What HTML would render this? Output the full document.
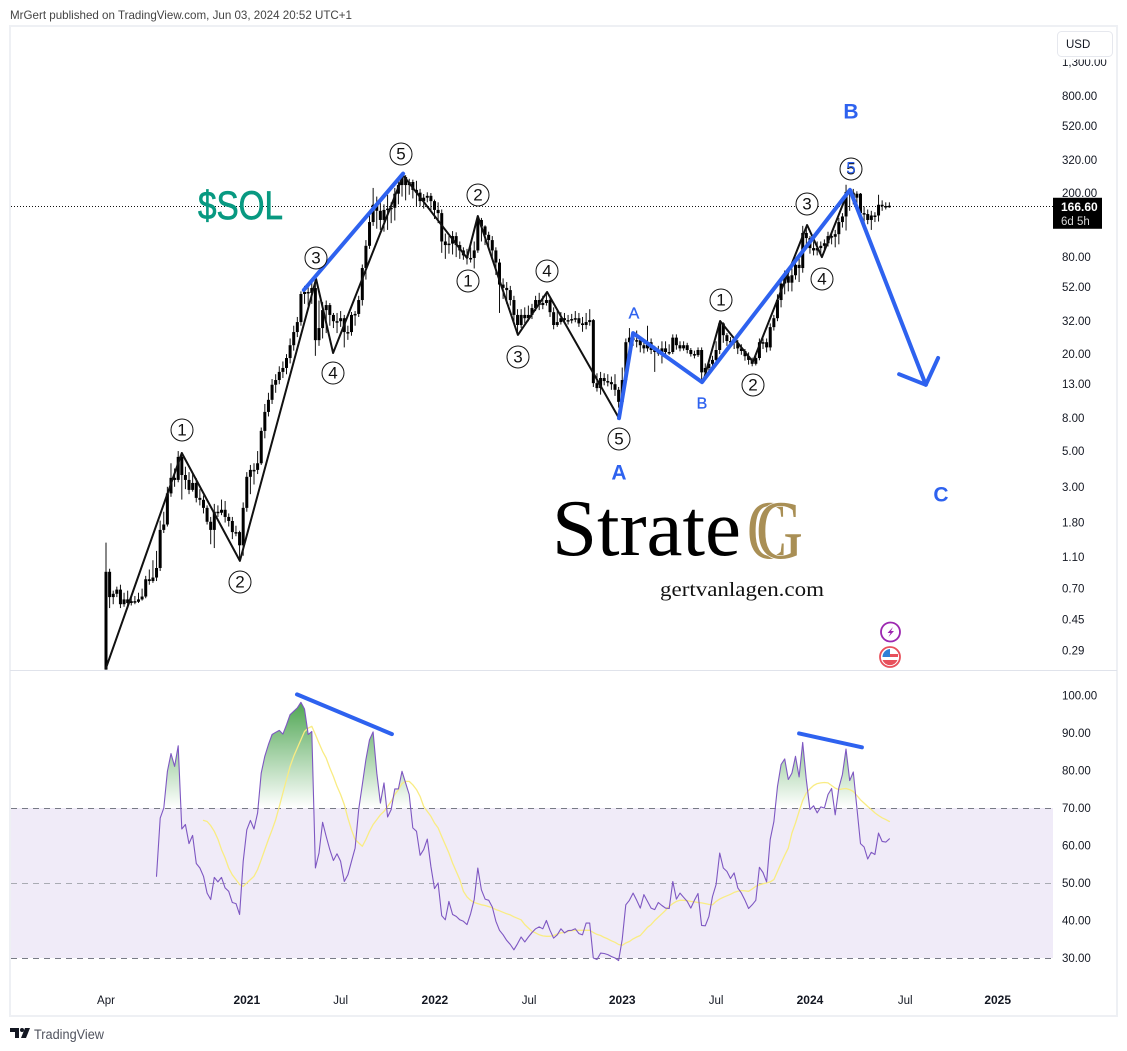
<!DOCTYPE html>
<html lang="en">
<head>
<meta charset="utf-8">
<title>SOL weekly chart with Elliott wave count and RSI</title>
<style>
html,body{margin:0;padding:0;background:#fff;width:1127px;height:1051px;overflow:hidden}
svg{display:block;font-family:"Liberation Sans",sans-serif}
.tick{font-size:11.5px;fill:#131722}
.circ{fill:#fff;stroke:#111;stroke-width:1}
.num{font-size:17px;fill:#111;text-anchor:middle;dominant-baseline:central}
.blue{fill:#2e62ef;text-anchor:middle;dominant-baseline:central}
</style>
</head>
<body>
<svg id="chart" width="1127" height="1051" viewBox="0 0 1127 1051" xmlns="http://www.w3.org/2000/svg">
  <defs>
    <linearGradient id="rsiGrad" gradientUnits="userSpaceOnUse" x1="0" y1="695" x2="0" y2="808">
      <stop offset="0" stop-color="#43a047" stop-opacity="1"/>
      <stop offset="1" stop-color="#43a047" stop-opacity="0"/>
    </linearGradient>
    <clipPath id="above70"><rect x="10" y="670" width="1043" height="138"/></clipPath>
    <clipPath id="pricePane"><rect x="10" y="27" width="1043" height="643"/></clipPath>
  </defs>

  <text x="10" y="19" font-size="11.6" fill="#444" textLength="342" lengthAdjust="spacingAndGlyphs">MrGert published on TradingView.com, Jun 03, 2024 20:52 UTC+1</text>
  <rect x="10" y="26" width="1107" height="990" fill="#fff" stroke="#eef0f4" stroke-width="2"/>

  <rect x="11" y="808" width="1042" height="150" fill="#f0ebf8"/>
  <line x1="11" x2="1053" y1="808.5" y2="808.5" stroke="#787b86" stroke-dasharray="6 5"/>
  <line x1="11" x2="1053" y1="883.5" y2="883.5" stroke="#a9abb3" stroke-dasharray="6 5"/>
  <line x1="11" x2="1053" y1="958.5" y2="958.5" stroke="#787b86" stroke-dasharray="6 5"/>
  <line x1="10" x2="1117" y1="670.5" y2="670.5" stroke="#e0e3eb"/>
  <line x1="11" x2="1053" y1="206.5" y2="206.5" stroke="#111" stroke-width="1" stroke-dasharray="1 2"/>

  <g id="candles" clip-path="url(#pricePane)"></g>
  <g id="drawings"></g>
  <g id="rsiLayer"></g>
  <g id="axes"></g>

  <g>
    <g><circle class="circ" cx="182" cy="430" r="11"/><text class="num" x="182" y="430">1</text></g>
    <g><circle class="circ" cx="240" cy="582" r="11"/><text class="num" x="240" y="582">2</text></g>
    <g><circle class="circ" cx="316" cy="258" r="11"/><text class="num" x="316" y="258">3</text></g>
    <g><circle class="circ" cx="333" cy="373" r="11"/><text class="num" x="333" y="373">4</text></g>
    <g><circle class="circ" cx="401" cy="154" r="11"/><text class="num" x="401" y="154">5</text></g>
    <g><circle class="circ" cx="468" cy="281" r="11"/><text class="num" x="468" y="281">1</text></g>
    <g><circle class="circ" cx="478" cy="195" r="11"/><text class="num" x="478" y="195">2</text></g>
    <g><circle class="circ" cx="518" cy="357" r="11"/><text class="num" x="518" y="357">3</text></g>
    <g><circle class="circ" cx="547" cy="271" r="11"/><text class="num" x="547" y="271">4</text></g>
    <g><circle class="circ" cx="619" cy="439" r="11"/><text class="num" x="619" y="439">5</text></g>
    <g><circle class="circ" cx="721" cy="300" r="11"/><text class="num" x="721" y="300">1</text></g>
    <g><circle class="circ" cx="753" cy="385" r="11"/><text class="num" x="753" y="385">2</text></g>
    <g><circle class="circ" cx="807" cy="204" r="11"/><text class="num" x="807" y="204">3</text></g>
    <g><circle class="circ" cx="822" cy="279" r="11"/><text class="num" x="822" y="279">4</text></g>
    <g><circle class="circ" cx="851" cy="169" r="11"/><text class="num" x="851" y="169">5</text><text class="num" x="851" y="168" style="fill:#2e62ef">5</text></g>
  </g>

  <text class="blue" x="619" y="473" font-size="21" font-weight="bold">A</text>
  <text class="blue" x="851" y="112" font-size="21" font-weight="bold">B</text>
  <text class="blue" x="941" y="495" font-size="21" font-weight="bold">C</text>
  <text class="blue" x="634" y="314" font-size="16" stroke="#2e62ef" stroke-width="0.3">A</text>
  <text class="blue" x="702" y="404" font-size="16" stroke="#2e62ef" stroke-width="0.3">B</text>

  <text x="198" y="219" font-size="40" fill="#089981" stroke="#089981" stroke-width="0.7" textLength="85" lengthAdjust="spacingAndGlyphs">$SOL</text>

  <g font-family="'Liberation Serif',serif">
    <text x="552" y="555" font-size="80" fill="#000" textLength="189" lengthAdjust="spacingAndGlyphs">Strate</text>
    <text x="747" y="558" font-size="84" fill="#a98f55" textLength="40" lengthAdjust="spacingAndGlyphs">C</text>
    <text x="756" y="558" font-size="84" fill="#a98f55" stroke="#fff" stroke-width="1.2" paint-order="stroke" textLength="47" lengthAdjust="spacingAndGlyphs">G</text>
    <text x="660" y="596" font-size="20" fill="#111" textLength="164" lengthAdjust="spacingAndGlyphs">gertvanlagen.com</text>
  </g>

  <g>
    <circle cx="890.500" cy="632" r="9.500" fill="#fff" stroke="#9c27b0" stroke-width="1.800"/>
    <path d="M893 627l-5.500 6h3l-2 4 5.500-6h-3z" fill="#9c27b0"/>
  </g>
  <g>
    <circle cx="890" cy="657" r="10" fill="#fff" stroke="#e8505b" stroke-width="1.800"/>
    <path d="M882.500 660h15a8 8 0 0 1-15 0z" fill="#e8505b"/>
    <rect x="890" y="654" width="8" height="3" fill="#e8505b"/>
    <path d="M890 649a8 8 0 0 0-7.500 8h7.500z" fill="#2f7fd6"/>
  </g>

  <path d="M10 1028h9v10h-4v-6h-5z M25 1028h5l-4 10h-5z" fill="#131722"/>
  <circle cx="22" cy="1030" r="2" fill="#131722"/>
  <text x="34" y="1039" font-size="13.500" fill="#50535e" textLength="70" lengthAdjust="spacingAndGlyphs">TradingView</text>

  <g id="lastPrice"></g>
  <rect x="1055" y="29" width="60" height="30.500" fill="#fff"/>
  <g>
    <rect x="1057.500" y="31.500" width="55" height="25" rx="4" fill="#fff" stroke="#e6e8ee"/>
    <text x="1066" y="48" font-size="11.500" fill="#131722">USD</text>
  </g>
</svg>

<script>
// Weekly SOL/USD candles. Each open is the previous close.
const firstOpen = 0.22;
const closes = [0.89,0.62,0.65,0.69,0.56,0.60,0.57,0.585,0.58,0.60,0.625,0.80,0.78,0.82,0.94,1.62,1.75,2.73,3.41,3.31,4.6,3.55,3.31,2.87,3.17,2.56,2.49,2.22,1.82,1.62,2.10,2.07,2.16,1.95,1.84,1.57,1.57,1.30,2.22,3.46,3.82,3.82,4.2,6.67,8.75,10.4,12.9,13.8,15.5,16.4,18.9,22.7,27.4,31.6,47.2,48.6,47.9,51.4,24.4,29,37.5,40.3,35,32,32,33.4,27.4,27.4,35,35.5,43.3,68.4,94,132,169,155,136,157,160,162,198,224,251,224,234,209,201,178,187,192,178,157,150,100,95,97,108,95,88,82,79,79,88,136,124,110,102,88,74,54,51.5,49.9,43.3,35,30.3,35,33.4,35,38.6,43.3,40.3,41.5,43.3,36.4,30.3,31.6,33.4,32.5,32.5,33,33.4,31,30.3,31.6,32.5,13.2,12.3,14.2,13.6,13.4,13,12,10.1,13.8,23.7,25.3,24.4,24.4,22.7,21.7,23.7,21.2,20.6,20.6,21.7,20.6,20.6,25.3,22.7,21.7,22.7,21.2,20,19.7,21.2,15.4,16.4,17.4,18.4,21.2,31,26.2,24.1,24.1,23.4,21.7,20.9,19.4,18.4,17.4,18.9,23.7,23.7,22,29.4,33.4,43.3,54.8,60.8,55.5,61.7,71.6,68.4,113,105,91,88,91,94,97.5,108,107,111,132,143,203,201,187,198,150,148,136,145,145,169,166,166,166.6];
const highs = [1.35,0.93,0.68,0.72,0.74,0.66,0.68,0.62,0.63,0.66,0.70,0.84,0.92,1.05,1.2,1.85,2.1,3.0,4.2,3.9,5.0,4.9,4.0,3.7,3.6,3.4,2.9,2.65,2.3,1.95,2.35,2.3,2.5,2.45,2.05,1.95,1.72,1.6,2.4,3.7,4.1,4.2,5,7.0,9.8,11.5,14,15,16.8,18,20,25,30,34,49,53,52,58,55,43,42,43,41.5,36,36,37,35,30,36.5,37,46,72,102,145,215,190,175,170,195,175,215,245,262,258,245,242,238,212,197,202,200,182,175,158,112,108,116,114,100,92,90,92,100,144,140,126,115,108,92,78,59,56,53,46,38,38,39,40,41,46,48,46,47,45,39,37,36.5,36,35,35.5,37,36,34,36,38,33,15.2,15.5,15.2,15,14.5,15,12.5,16.5,25,29,27.5,28,25.5,24.5,30,25,22.5,22.5,24,24,23,26.5,26.5,24,24,23.5,21.8,21,22,22,17.5,18.5,19.5,24,32,31.5,27,25.5,25,24.5,23,21.5,20.5,19,19.5,25,25,25,31,35,47,60,66,64,68,78,80,125,122,108,100,100,100,103,115,112,118,140,150,225,212,212,205,200,165,158,155,152,195,180,175,175];
const lows = [0.22,0.53,0.56,0.62,0.53,0.54,0.53,0.55,0.56,0.57,0.59,0.61,0.74,0.76,0.78,0.9,1.55,1.7,2.6,3.0,3.2,2.5,2.9,2.7,2.8,2.4,2.3,2.05,1.75,1.32,1.25,1.95,2.0,1.8,1.7,1.42,1.48,1.08,1.12,2.1,2.7,3.1,3.6,4.1,6.0,8.2,9.8,11.5,13,14.2,15,17.5,21,25.5,30,41,40,41,19.5,22.5,25,27,30,29,27,29.5,22,24.5,26,30,34,40,58,90,125,120,118,115,118,130,135,170,190,180,195,185,165,165,160,175,155,138,130,85,78,84,83,80,78,77,72,74,68,85,100,95,90,78,62,36,44,41,40,31,27.5,29,31,32,33,37,37.5,38,40,34,28.5,29.5,30.5,31,30.5,31,31.5,29.5,27.5,28.5,30,12.5,11.7,11.2,12.8,12.6,12,11,9.3,9.6,13,21,22.5,22,20.5,20.2,20.7,20,15.5,19.5,17.5,19.5,19.8,20,21.3,20.8,21,20.2,19.3,18.8,19.2,13.8,14.2,15.5,16.5,17.8,20,23.5,22.5,22,21.5,20,19.8,18.2,17.2,16.8,17,18.3,21.5,20.5,21,28,32,39,47,49,49,58,56,64,92,84,82,82,84,89,93,96,92,96,122,117,155,170,165,140,125,128,118,132,133,155,158,162];
const rsiStartBar = 14;
const rsiValues = [51.8,67.3,70,79.8,84.5,81.1,86.6,64.4,65.6,60.5,62.7,55.2,54,51.8,47.3,45.6,51.5,50.3,51.5,48.7,47.8,44.8,44.5,41.6,55.8,64.2,66.7,64.4,68.7,79.3,83.8,86.9,89.6,90.2,90.7,89.7,92.2,94.9,95.8,96.7,98.2,96.4,89.6,90.4,54,58,66.2,62.4,58.9,56,57.8,55.8,50.4,52.2,55.8,59.3,69.6,76.2,82.9,88.2,90.3,79.3,71.3,76.7,67.6,69.6,75.1,75.1,79.8,76.7,73.6,64.7,63.8,57.4,58.9,61.7,54.4,48.5,50,41.3,40.2,45.1,41.6,41.1,40.2,
39.8,38.9,41.8,45.6,54,48.2,45.7,45.4,43.6,39.8,37.4,36.2,34.7,33.6,32.2,33.8,35.6,34.3,35.6,36.8,37.8,38.3,37.8,40,37.4,35.3,36.2,37.8,36.7,37.3,37.4,37.8,36.5,36.2,39.3,39.3,30,29.6,31.3,31.2,30.9,30.4,30,29.3,34.9,44.2,45.4,47.3,45.4,43.3,46.9,45.1,43.3,42.9,44.8,44,43.3,43.2,50.4,45.7,47.3,46.2,45.1,43.3,45.4,47.2,38.7,38.6,41.1,46.4,49.6,58,54,53.1,51.2,52.7,48.7,47.3,45.4,43.2,44.2,45.4,54.2,52.8,50.3,61.6,66.4,75.8,
81.6,83.1,77.6,79.3,83.8,78.3,87.5,77.6,69.6,70.6,68.7,70.3,70,73.6,75.2,68.2,75.3,78.9,85.7,77.3,79.6,70,60.5,59.6,56.4,58.2,57.6,63.3,61.1,60.9,61.8];
const maStartBar = 27;
const maValues = [66.7,66.4,65.3,63.8,61.7,58.9,56.7,54,52.2,50.9,49.6,49.1,50,50.9,51.8,53.6,56.2,58.9,61.6,64.2,66.9,70.4,74,77.6,81.1,83.8,86,88.2,90.4,91.3,91.8,89.6,87.3,85.1,83.3,80.7,78.4,75.8,73.6,70.9,67.3,64.2,61.6,60.7,59.8,61.6,63.8,65.6,66.9,68.2,69.1,70.4,71.8,73.6,74.9,76.5,77.1,77.1,76.2,74.9,73.1,70.4,69.1,67.8,66,64.7,62.4,60.2,58,55.3,53.1,50.9,
47.8,46.3,45.4,44.8,44.5,44.2,44,43.7,43.4,42.9,42.6,42.2,41.8,41.5,41,40.6,40.2,38.9,38,37.1,36.7,36.2,35.9,35.8,35.8,36,36.4,36.7,36.8,37.1,37.3,37.4,37.4,37.4,37.4,37.4,36.8,36.3,36,35.5,35.1,34.6,34.2,33.6,33.4,34,34.4,35.1,35.6,36,37.1,38.2,38.9,40,40.9,41.8,42.7,43.8,44.5,45.1,45.4,45.4,45.3,45.1,45,44.8,44.7,44.5,44.3,44.2,45.1,45.7,46.2,46.6,47,47.5,47.8,48,47.9,47.8,48.4,49.1,49.5,49.8,50,50.3,50.9,53.1,55.3,57.4,59.3,
63.3,66,69.1,72,74,75.1,76,76.5,76.7,76.8,76.7,76,75.3,74.9,75.1,75.2,74.9,74.4,73.3,72.2,71.3,70.4,69.6,68.7,68,67.4,66.9,66.4];
const priceTicks = [1300,800,520,320,200,80,52,32,20,13,8,5,3,1.8,1.1,0.7,0.45,0.29];
const rsiTicks = [100,90,80,70,60,50,40,30];
const timeTickLabels = ["Apr","2021","Jul","2022","Jul","2023","Jul","2024","Jul","2025"];
const timeTickBars = [0,39,65,91.1,117.2,143,169,195,221.4,247];
const lastPrice = 166.6;
const lastPriceCountdown = "6d 5h";
// Hand-drawn wave paths, given as bar index and price.
const waveOneBars = [0,21,37.1,58.2,62.9,82.3,100,103,114.1,122.2,142.1];
const waveOnePrices = [0.225,4.86,1.04,58.5,20.3,258,79,144,26.3,48.6,8];
const waveTwoBars = [165.4,170.1,179.2,194.2,198.3,205.5];
const waveTwoPrices = [13.4,32.1,17.9,126.6,80,203];
const trendBars = [54.8,82.3];
const trendPrices = [50,264];
const abcBars = [142.1,146,165.1,206.1,227.1];
const abcPrices = [8,27,13.4,209,12.9];
const arrowBars = [219.7,227.1,230.5];
const arrowPrices = [15,12.9,18.9];
const rsiDivOneBars = [52.9,79.2];
const rsiDivOneValues = [100.3,89.7];
const rsiDivTwoBars = [192,209.4];
const rsiDivTwoValues = [89.9,86.2];

const NS = "http://www.w3.org/2000/svg";
function xAt(bar){ return 106 + 3.61 * bar; }
function yPrice(p){ return 96 + 69.96 * Math.log(800 / p); }
function yRsi(v){ return 808 + (70 - v) * 3.75; }
function make(tag, parent){ const el = document.createElementNS(NS, tag); parent.appendChild(el); return el; }
function pts(bars, vals, yf){ return bars.map(function(b,i){ return xAt(b).toFixed(1) + "," + yf(vals[i]).toFixed(1); }).join(" "); }
function polyline(parent, bars, vals, yf, color, width){
  const el = make("polyline", parent);
  el.setAttribute("points", pts(bars, vals, yf));
  el.setAttribute("fill", "none");
  el.setAttribute("stroke", color);
  el.setAttribute("stroke-width", width);
  el.setAttribute("stroke-linejoin", "round");
  el.setAttribute("stroke-linecap", "round");
  return el;
}

const candleLayer = document.getElementById("candles");
closes.forEach(function(c, i){
  const o = i === 0 ? firstOpen : closes[i - 1];
  const x = xAt(i);
  const wick = make("line", candleLayer);
  
  
  wick.setAttribute("x1", x); wick.setAttribute("x2", x);
  wick.setAttribute("y1", yPrice(highs[i])); wick.setAttribute("y2", yPrice(lows[i]));
  wick.setAttribute("stroke", "#111"); wick.setAttribute("stroke-width", "1");
  const body = make("rect", candleLayer);
  
  
  const top = yPrice(Math.max(o, c)), bottom = yPrice(Math.min(o, c));
  body.setAttribute("x", x - 1.5); body.setAttribute("width", 3);
  body.setAttribute("y", top); body.setAttribute("height", Math.max(1.5, bottom - top));
  body.setAttribute("fill", "#000");
});

const drawLayer = document.getElementById("drawings");
const w1 = polyline(drawLayer, waveOneBars, waveOnePrices, yPrice, "#111", 2);


const w2 = polyline(drawLayer, waveTwoBars, waveTwoPrices, yPrice, "#111", 2);


const t1 = polyline(drawLayer, trendBars, trendPrices, yPrice, "#2e62ef", 4);


const abc = polyline(drawLayer, abcBars, abcPrices, yPrice, "#2e62ef", 4);


const arrow = polyline(drawLayer, arrowBars, arrowPrices, yPrice, "#2e62ef", 4);



const rsiLayer = document.getElementById("rsiLayer");
const rsiBars = rsiValues.map(function(v,i){ return rsiStartBar + i; });
const maBars = maValues.map(function(v,i){ return maStartBar + i; });
const fill = make("polygon", rsiLayer);


fill.setAttribute("points", xAt(rsiBars[0]) + "," + yRsi(70) + " " + pts(rsiBars, rsiValues, yRsi) + " " + xAt(rsiBars[rsiBars.length - 1]) + "," + yRsi(70));
fill.setAttribute("fill", "url(#rsiGrad)");
fill.setAttribute("clip-path", "url(#above70)");
const ma = polyline(rsiLayer, maBars, maValues, yRsi, "#f9ec83", 1.3);


const rsi = polyline(rsiLayer, rsiBars, rsiValues, yRsi, "#7e57c2", 1.1);


const d1 = polyline(rsiLayer, rsiDivOneBars, rsiDivOneValues, yRsi, "#2e62ef", 4);


const d2 = polyline(rsiLayer, rsiDivTwoBars, rsiDivTwoValues, yRsi, "#2e62ef", 4);



const axes = document.getElementById("axes");
priceTicks.forEach(function(p){
  const t = make("text", axes);
  
  
  t.setAttribute("class", "tick");
  t.setAttribute("x", 1062);
  t.setAttribute("y", yPrice(p) + 4);
  t.textContent = p >= 1000 ? p.toLocaleString("en-US") + ".00" : p.toFixed(2);
});
rsiTicks.forEach(function(v){
  const t = make("text", axes);
  
  
  t.setAttribute("class", "tick");
  t.setAttribute("x", 1062);
  t.setAttribute("y", yRsi(v) + 4);
  t.textContent = v.toFixed(2);
});
timeTickLabels.forEach(function(label, i){
  const t = make("text", axes);
  
  
  t.setAttribute("x", xAt(timeTickBars[i]));
  t.setAttribute("y", 1004);
  t.setAttribute("text-anchor", "middle");
  t.setAttribute("fill", "#131722");
  t.setAttribute("font-size", /^\d/.test(label) ? "12" : "11.5");
  t.setAttribute("font-weight", /^\d/.test(label) ? "bold" : "normal");
  t.textContent = label;
});

const lp = document.getElementById("lastPrice");
const lpBox = make("rect", lp);


lpBox.setAttribute("x", 1053); lpBox.setAttribute("y", yPrice(lastPrice) - 8);
lpBox.setAttribute("width", 49); lpBox.setAttribute("height", 31);
lpBox.setAttribute("fill", "#000");
const lpText = make("text", lp);


lpText.setAttribute("x", 1061); lpText.setAttribute("y", yPrice(lastPrice) + 5);
lpText.setAttribute("fill", "#fff"); lpText.setAttribute("font-size", "12"); lpText.setAttribute("font-weight", "bold");
lpText.textContent = lastPrice.toFixed(2);
const lpCount = make("text", lp);


lpCount.setAttribute("x", 1061); lpCount.setAttribute("y", yPrice(lastPrice) + 19);
lpCount.setAttribute("fill", "#d6d6d6"); lpCount.setAttribute("font-size", "11.5");
lpCount.textContent = lastPriceCountdown;
</script>
</body>
</html>
